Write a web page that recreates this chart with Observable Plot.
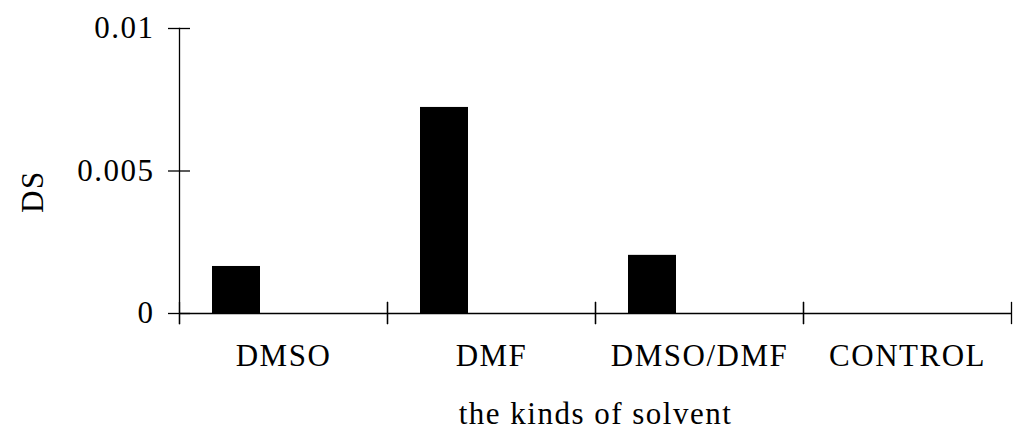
<!DOCTYPE html>
<html>
<head>
<meta charset="utf-8">
<script src="https://cdn.jsdelivr.net/npm/d3@7"></script>
<script src="https://cdn.jsdelivr.net/npm/@observablehq/plot@0.6"></script>
<style>
  html, body { margin: 0; padding: 0; background: #fff; }
</style>
</head>
<body>
<div id="chart"></div>
<script>
// ---- data ----
const categories = ["DMSO", "DMF", "DMSO/DMF", "CONTROL"];
const dsValues = [0.00165, 0.00723, 0.00204, 0];
const seriesName = "DS";
const yTicks = [0, 0.005, 0.01];
const yTickLabels = ["0", "0.005", "0.01"];
const xLabel = "the kinds of solvent";
const yLabel = "DS";

const data = categories.map((c, i) => ({ category: c, series: seriesName, value: dsValues[i] }));

const ink = "black";
const sw = 1.3;

const chart = Plot.plot({
  width: 1024,
  height: 433,
  marginLeft: 178,
  marginRight: 13,
  marginTop: 28,
  marginBottom: 120,
  style: {
    fontFamily: '"Liberation Serif", "Times New Roman", serif',
    fontSize: "31px",
    letterSpacing: "1.5px",
    color: ink,
    background: "white"
  },
  fx: { domain: categories, padding: 0, label: null },
  x: { domain: [seriesName], paddingInner: 0, paddingOuter: 1.625, align: 0.207, axis: null },
  y: { domain: [0, 0.01], axis: null, label: null },
  marks: [
    Plot.barY(data, { fx: "category", x: "series", y: "value", fill: ink }),
    Plot.ruleY([0], { stroke: ink, strokeWidth: sw }),
    Plot.frame({ anchor: "left", facetAnchor: "left", insetBottom: -10, stroke: ink, strokeWidth: sw }),
    Plot.frame({ anchor: "left", insetTop: 274, insetBottom: -10, stroke: ink, strokeWidth: sw }),
    Plot.frame({ anchor: "right", insetTop: 274, insetBottom: -10, stroke: ink, strokeWidth: sw }),
    Plot.axisY({ ticks: yTicks, tickSize: 22, dx: 11, tickFormat: () => "", label: null, stroke: ink, strokeWidth: sw }),
    Plot.axisY({ ticks: yTicks, tickSize: 0, tickPadding: 25, label: null,
      tickFormat: d => yTickLabels[yTicks.indexOf(d)], fill: ink }),
    Plot.axisFx({ anchor: "bottom", tickSize: 0, tickPadding: 30, fill: ink, label: null }),
    Plot.axisFx({ anchor: "bottom", tickSize: 0, tickFormat: () => "", fill: ink, dx: 12,
      label: xLabel, labelAnchor: "center", labelOffset: 110 }),
    Plot.text([yLabel], { frameAnchor: "left", facetAnchor: "left", rotate: -90, dx: -146, dy: 42, fontSize: 31, fill: ink })
  ]
});

document.getElementById("chart").appendChild(chart);
</script>
</body>
</html>
